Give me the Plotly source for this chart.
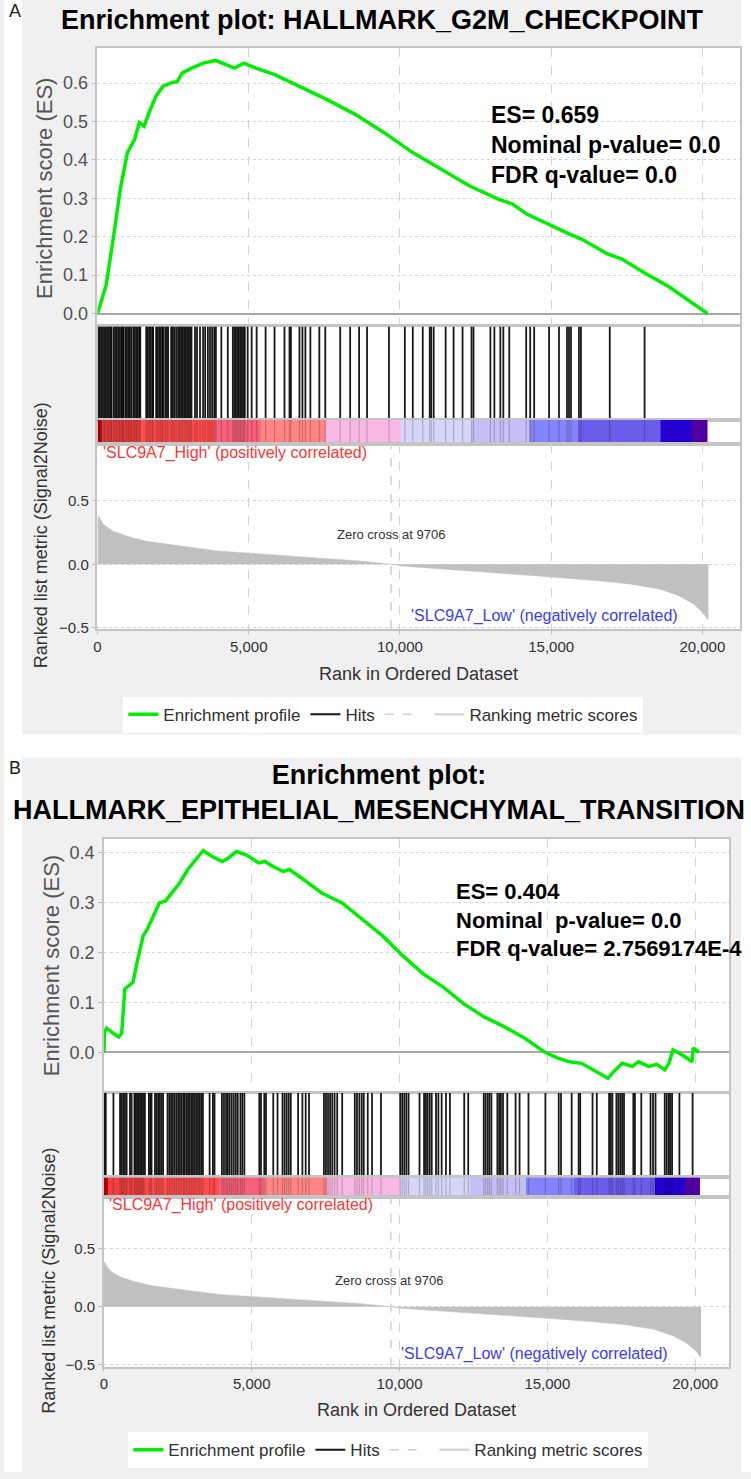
import plotly.graph_objects as go

W, H = 751, 1479

# ------------------------------------------------------------------ data
ZERO_CROSS = 9706

x_tick_vals = [0, 5000, 10000, 15000, 20000]
x_tick_text = ["0", "5,000", "10,000", "15,000", "20,000"]

# Panel A : HALLMARK_G2M_CHECKPOINT
es_a_rank = [0, 283, 519, 755, 990, 1226, 1383, 1540, 1698, 1934, 2170, 2405, 2641,
             2798, 3113, 3506, 3899, 4213, 4528, 4842, 5235, 5864, 6650, 7593, 8536,
             9479, 10422, 11366, 12309, 13252, 13724, 14195, 14981, 15610, 16003,
             16396, 16868, 17340, 18125, 18911, 19540, 20168]
es_a_val = [0.0, 0.073, 0.194, 0.324, 0.419, 0.453, 0.497, 0.488, 0.522, 0.566, 0.592,
            0.600, 0.604, 0.626, 0.639, 0.652, 0.659, 0.648, 0.639, 0.652, 0.639, 0.622,
            0.592, 0.557, 0.518, 0.471, 0.419, 0.376, 0.332, 0.298, 0.285, 0.259, 0.229,
            0.207, 0.194, 0.177, 0.155, 0.142, 0.104, 0.069, 0.035, 0.0]
hits_a = [30, 80, 130, 180, 230, 280, 330, 380, 430, 460,
          530, 580, 630, 680, 730, 780, 830, 855,
          920, 970, 1020, 1070, 1120,
          1185, 1235, 1285, 1335, 1385, 1415,
          1610, 1660, 1710, 1760, 1810, 1840,
          1940, 1990, 2040, 2090, 2140, 2170,
          2240, 2290, 2335,
          2435, 2485, 2535, 2600,
          2665, 2715, 2765, 2815, 2865, 2915, 2965, 3015, 3060,
          3108, 3225, 3290, 3390,
          3490, 3560, 3650,
          3720, 3790, 3860, 3915,
          4095, 4309,
          4475, 4525, 4575, 4625, 4675, 4725, 4775, 4825, 4870,
          4966, 5098, 5262, 5558, 5854, 6183, 6348, 6397, 6677, 6776, 6874, 7039,
          7335, 7532, 8025, 8354, 8650, 8913, 9637,
          10163, 10426, 10755, 10985, 11035, 11117, 11512, 11775, 12071, 12367,
          12433, 12992, 13123, 13320, 13419, 13616, 14175, 14307, 14439, 14932,
          15261, 15524, 15590, 15656, 15919, 15985, 16939, 18090]
stats_a = ["ES= 0.659", "Nominal p-value= 0.0", "FDR q-value= 0.0"]
title_a = "Enrichment plot: HALLMARK_G2M_CHECKPOINT"

# Panel B : HALLMARK_EPITHELIAL_MESENCHYMAL_TRANSITION
es_b_rank = [0, 20, 91, 226, 363, 500, 598, 707, 844, 982, 1120, 1326, 1463, 1669,
             1875, 2081, 2287, 2562, 2837, 3111, 3358, 3660, 4004, 4210, 4485, 4829,
             5240, 5445, 5720, 6064, 6269, 6681, 7369, 8056, 8743, 9429, 10116, 10803,
             11489, 12175, 12865, 13551, 14237, 14924, 15335, 15748, 16159, 16573,
             17051, 17189, 17532, 17875, 18084, 18424, 18699, 18975, 19113, 19251,
             19456, 19661, 19893, 19934, 20140]
es_b_val = [0.0, 0.041, 0.048, 0.041, 0.036, 0.031, 0.038, 0.127, 0.134, 0.140, 0.180,
            0.233, 0.246, 0.273, 0.299, 0.303, 0.319, 0.339, 0.366, 0.385, 0.404, 0.392,
            0.382, 0.389, 0.402, 0.395, 0.379, 0.382, 0.372, 0.362, 0.366, 0.349, 0.319,
            0.299, 0.266, 0.233, 0.193, 0.157, 0.130, 0.097, 0.071, 0.051, 0.028, 0.0,
            -0.011, -0.019, -0.022, -0.035, -0.052, -0.042, -0.022, -0.028, -0.019,
            -0.028, -0.024, -0.035, -0.022, 0.005, -0.002, -0.009, -0.019, 0.009, 0.0]
hits_b = [10, 61, 320, 545, 600, 655, 710, 767, 880, 935,
          1030, 1080, 1130, 1180, 1230, 1280, 1330, 1386,
          1520, 1570, 1610,
          1725, 1780, 1835, 1890, 1945, 2000,
          2150, 2210, 2270, 2330, 2390, 2450,
          2510, 2570, 2630, 2690, 2730,
          2790, 2845, 2900, 2955, 3010, 3065, 3120, 3180, 3235, 3290, 3348,
          3574, 3685, 3740, 3990, 4060, 4130, 4190,
          4250, 4320, 4390, 4460, 4526, 4615, 4680, 4750,
          5256, 5312, 5424, 5480, 5727, 5872,
          6040, 6110, 6180, 6250, 6320, 6568, 6713, 6825, 6937,
          7442, 7510, 7580, 7650, 7723, 7802, 7891, 8059,
          8486, 8560, 8640, 8720, 8789, 8924, 9069, 9371,
          10021, 10090, 10160, 10230, 10304, 10674,
          10829, 10890, 10950, 11020, 11088, 11233, 11313, 11424, 11570, 11704,
          12188, 12323, 12848, 12910, 12980, 13040, 13107,
          13309, 13370, 13430, 13500, 13645, 13925, 14060, 14362, 14934,
          15385, 15462, 15823, 16058, 16112, 16528, 16673,
          17088, 17145, 17201, 17336, 17400, 17465, 17530, 17593,
          17909, 17962, 18178, 18491, 18575, 18659,
          18972, 19040, 19110, 19160, 19220, 19467, 19914]
stats_b = ["ES= 0.404", "Nominal  p-value= 0.0", "FDR q-value= 2.7569174E-4"]
title_b = "Enrichment plot:<br>HALLMARK_EPITHELIAL_MESENCHYMAL_TRANSITION"

# Ranked list metric (shared ranked list)
metric_rank = [0, 204, 519, 990, 1619, 2405, 3191, 3977, 5000, 6335, 7593, 8693, 9706,
               10030, 11050, 12620, 14195, 14981, 16553, 17653, 18596, 19225, 19697,
               20012, 20200]
metric_val = [0.39, 0.31, 0.26, 0.22, 0.18, 0.156, 0.13, 0.104, 0.088, 0.065, 0.047,
              0.026, 0.0, -0.013, -0.031, -0.057, -0.083, -0.099, -0.13, -0.156, -0.195,
              -0.247, -0.31, -0.378, -0.44]

# Colour bar of the ranked list (segment edges in rank units and colours)
bar_edges = [0, 120, 1350, 3880, 5400, 7530, 10030, 12380, 14280, 15900, 18630, 19650, 20170]
bar_colors = ["#c80000", "#f04040", "#ff4c4c", "#f5607a", "#ff8585", "#f9b8e4",
              "#d6d6fa", "#c6bef6", "#8484fa", "#6c5cea", "#2400d0", "#4e00a0"]

high_label = "'SLC9A7_High' (positively correlated)"
low_label = "'SLC9A7_Low' (negatively correlated)"
zero_label = "Zero cross at 9706"

# ------------------------------------------------------------------ layout geometry (pixels)
FONT = "Liberation Sans"
GREEN = "#00ee00"
PANEL_BG = "#f0f0f0"

panels = [
    dict(tag="A", label_y=11, x0=94, x1=740, es=(48, 327), hits=(328, 422),
         bar=(422, 446), met=(446, 632), es_range=[-0.031, 0.692], met_range=[-0.508, 0.945],
         xmax=21247, es_ticks=[0.0, 0.1, 0.2, 0.3, 0.4, 0.5, 0.6],
         es_rank=es_a_rank, es_val=es_a_val, hit_ranks=hits_a, stats=stats_a, stats_xy=(488, 146),
         stats_size=23,
         title=title_a, title_xy=(381, 20), es_title_xy=(40, 189), met_title_xy=(38, 538),
         xlab_xy=(417, 677), high_xy=(98, 455), low_xy=(680, 619), zero_xy=(389, 537),
         legend_xy=(120, 700), legend="legend"),
    dict(tag="B", label_y=772, x0=100.5, x1=729, es=(843, 1097), hits=(1098, 1183),
         bar=(1183, 1203), met=(1203, 1373), es_range=[-0.079, 0.427], met_range=[-0.515, 0.943],
         xmax=21149, es_ticks=[0.0, 0.1, 0.2, 0.3, 0.4],
         es_rank=es_b_rank, es_val=es_b_val, hit_ranks=hits_b, stats=stats_b, stats_xy=(452, 924),
         stats_size=22,
         title=title_b, title_xy=(377, 796), es_title_xy=(48, 970), met_title_xy=(45, 1287),
         xlab_xy=(415, 1417), high_xy=(104, 1211), low_xy=(670, 1360), zero_xy=(387, 1287),
         legend_xy=(125, 1439), legend="legend2"),
]


def fy(p):
    return 1 - p / H


def fx(p):
    return p / W


def xa(n):
    return "x" if n == 1 else f"x{n}"


def ya(n):
    return "y" if n == 1 else f"y{n}"


def xkey(n):
    return "xaxis" if n == 1 else f"xaxis{n}"


def ykey(n):
    return "yaxis" if n == 1 else f"yaxis{n}"


fig = go.Figure()
layout = dict(width=W, height=H, margin=dict(l=0, r=0, t=0, b=0),
              paper_bgcolor=PANEL_BG, plot_bgcolor="white", showlegend=True,
              shapes=[], annotations=[])

# white page areas around the two grey panels (decoration only, outside any plot area)
for (x0, x1, y0, y1) in [(0, 18, 0, H), (741, W, 0, H), (0, W, 738, 761)]:
    layout["shapes"].append(dict(type="rect", xref="paper", yref="paper", layer="below",
                                 x0=fx(x0), x1=fx(x1), y0=fy(y1), y1=fy(y0),
                                 fillcolor="white", line=dict(width=0)))

n_bar = len(bar_colors)
bar_scale = [[i / (n_bar - 1), c] for i, c in enumerate(bar_colors)]

axis_no = 0
for P in panels:
    ids = [axis_no + 1, axis_no + 2, axis_no + 3, axis_no + 4]
    axis_no += 4
    n_es, n_hits, n_bar_ax, n_met = ids

    frame = dict(showline=True, mirror=True, linecolor="#c4c4c4", linewidth=1.5)
    xdom = [fx(P["x0"]), fx(P["x1"])]
    for n, part in zip(ids, ["es", "hits", "bar", "met"]):
        top, bot = P[part]
        xaxis = dict(domain=xdom, range=[0, P["xmax"]], anchor=ya(n), zeroline=False,
                     fixedrange=True, **frame)
        yaxis = dict(domain=[fy(bot), fy(top)], anchor=xa(n), zeroline=False, fixedrange=True,
                     **frame)
        if part in ("es", "met"):
            xaxis.update(showgrid=True, gridcolor="#d4d4d4", griddash="dash", gridwidth=1,
                         tickvals=x_tick_vals, ticktext=x_tick_text)
        else:
            xaxis.update(showgrid=False, showticklabels=False, ticks="")
        if part == "es":
            xaxis.update(showticklabels=False, ticks="")
            yaxis.update(range=P["es_range"], tickvals=P["es_ticks"], tickformat=".1f",
                         showgrid=True, gridcolor="#d4d4d4", griddash="dot", gridwidth=1.2,
                         zeroline=True, zerolinecolor="#a8a8a8", zerolinewidth=2,
                         ticks="outside", ticklen=4, tickcolor="#bbbbbb",
                         tickfont=dict(family=FONT, size=18, color="#505050"))
        elif part == "met":
            xaxis.update(ticks="outside", ticklen=3, tickcolor="#bbbbbb",
                         tickfont=dict(family=FONT, size=15, color="#303030"))
            yaxis.update(range=P["met_range"], tickvals=[-0.5, 0.0, 0.5], tickformat=".1f",
                         showgrid=True, gridcolor="#d4d4d4", griddash="dot", gridwidth=1.2,
                         ticks="outside", ticklen=4, tickcolor="#bbbbbb",
                         tickfont=dict(family=FONT, size=15, color="#303030"))
        else:
            yaxis.update(range=[0, 1], showgrid=False, showticklabels=False, ticks="")
        layout[xkey(n)] = xaxis
        layout[ykey(n)] = yaxis
        # white plotting area behind each sub-panel
        layout["shapes"].append(dict(type="rect", xref=f"{xa(n)} domain", yref=f"{ya(n)} domain",
                                     x0=0, x1=1, y0=0, y1=1, layer="below",
                                     fillcolor="white", line=dict(width=0)))

    leg = P["legend"]
    # ---- enrichment profile
    fig.add_trace(go.Scatter(x=P["es_rank"], y=P["es_val"], mode="lines",
                             line=dict(color=GREEN, width=3.5), name="Enrichment profile",
                             xaxis=xa(n_es), yaxis=ya(n_es), legend=leg))
    # ---- hits
    hx, hy = [], []
    for r in P["hit_ranks"]:
        hx += [r, r, None]
        hy += [0, 1, None]
    fig.add_trace(go.Scatter(x=hx, y=hy, mode="lines", line=dict(color="rgba(0,0,0,0.9)", width=1.8),
                             name="Hits", xaxis=xa(n_hits), yaxis=ya(n_hits), legend=leg))
    # ---- colour bar
    fig.add_trace(go.Heatmap(x=bar_edges, y=[0, 1], z=[list(range(n_bar))],
                             colorscale=bar_scale, zmin=0, zmax=n_bar - 1, showscale=False,
                             hoverinfo="skip", xaxis=xa(n_bar_ax), yaxis=ya(n_bar_ax),
                             showlegend=False))
    fig.add_trace(go.Scatter(x=hx, y=hy, mode="lines", line=dict(color="rgba(0,0,0,0.2)", width=1.2),
                             showlegend=False, hoverinfo="skip",
                             xaxis=xa(n_bar_ax), yaxis=ya(n_bar_ax)))
    # ---- ranked list metric
    fig.add_trace(go.Scatter(x=metric_rank, y=metric_val, mode="lines", fill="tozeroy",
                             fillcolor="#c0c0c0", line=dict(color="#c0c0c0", width=0.5),
                             showlegend=False, xaxis=xa(n_met), yaxis=ya(n_met)))
    # zero cross marker
    fig.add_trace(go.Scatter(x=[ZERO_CROSS, ZERO_CROSS], y=P["met_range"], mode="lines",
                             line=dict(color="#d0d0d0", width=1.5, dash="dash"), name=" ",
                             xaxis=xa(n_met), yaxis=ya(n_met), legend=leg))
    # legend entry for metric line
    fig.add_trace(go.Scatter(x=[None], y=[None], mode="lines",
                             line=dict(color="#d8d8d8", width=2.5), name="Ranking metric scores",
                             xaxis=xa(n_met), yaxis=ya(n_met), legend=leg))

    layout[leg] = dict(x=fx(P["legend_xy"][0]), y=fy(P["legend_xy"][1]), xanchor="left",
                       yanchor="top", orientation="h", bgcolor="white", borderwidth=0,
                       font=dict(family=FONT, size=17, color="#303030"),
                       itemwidth=30, tracegroupgap=0)

    A = layout["annotations"]

    def note(text, xy, size, color, xanchor="center", angle=0, align="center"):
        A.append(dict(text=text, x=fx(xy[0]), y=fy(xy[1]), xref="paper", yref="paper",
                      xanchor=xanchor, yanchor="middle", showarrow=False, align=align,
                      textangle=angle, font=dict(family=FONT, size=size, color=color)))

    note(P["tag"], (3, P["label_y"]), 18, "#222222", xanchor="left")
    note("<b>" + P["title"].replace("<br>", "</b><br><b>") + "</b>", P["title_xy"], 27, "black")
    note("<br>".join("<b>" + s + "</b>" for s in P["stats"]), P["stats_xy"], P["stats_size"],
         "black", xanchor="left", align="left")
    note("Enrichment score (ES)", P["es_title_xy"], 22, "#555555", angle=-90)
    note("Ranked list metric (Signal2Noise)", P["met_title_xy"], 18, "#333333", angle=-90)
    note("Rank in Ordered Dataset", P["xlab_xy"], 18, "#333333")
    note(high_label, P["high_xy"], 16, "#ff3535", xanchor="left")
    note(low_label, P["low_xy"], 16, "#3a3aff", xanchor="right")
    note(zero_label, P["zero_xy"], 13, "#333333")

fig.update_layout(**layout)
fig.write_html("out.html", config={"displayModeBar": False},
               post_script="document.body.style.margin='0px';")
